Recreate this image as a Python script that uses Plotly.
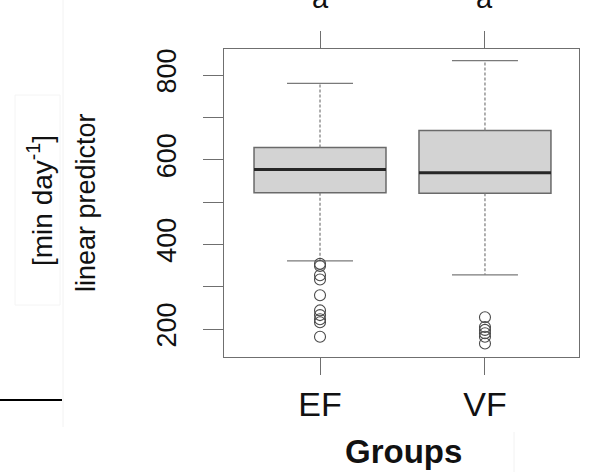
import plotly.graph_objects as go

# Group labels and boxplot statistics (linear predictor, min day^-1)
groups = ["EF", "VF"]
positions = [1, 2]
q1 = [522, 521]
median = [577, 569]
q3 = [629, 669]
whisker_low = [361, 328]
whisker_high = [780, 834]
ef_outliers = [354, 349, 327, 317, 280, 244, 233, 223, 216, 182]
vf_outliers = [228, 205, 198, 190, 182, 166]
letters = ["a", "a"]

y_ticks = [200, 300, 400, 500, 600, 700, 800]
y_ticktext = ["200", "", "400", "", "600", "", "800"]

W, H = 592, 472
ML, MR, MT, MB = 224, 13, 49, 115
PW, PH = W - ML - MR, H - MT - MB


def px_x(px):
    return (px - ML) / PW


def px_y(py):
    return (H - MB - py) / PH


AX = "#6f6f6f"
FONT = "Liberation Sans, Arial, sans-serif"

fig = go.Figure()

# Boxes (quartiles only; whiskers drawn dashed below)
fig.add_trace(go.Box(
    x=positions, q1=q1, median=median, q3=q3,
    lowerfence=q1, upperfence=q3,
    width=0.8, whiskerwidth=0,
    fillcolor="#d3d3d3",
    line=dict(color="#6a6a6a", width=1.5),
    boxpoints=False, hoverinfo="skip", showlegend=False,
))

for i, xc in enumerate(positions):
    # dashed whiskers
    fig.add_trace(go.Scatter(
        x=[xc, xc, None, xc, xc],
        y=[q3[i], whisker_high[i], None, q1[i], whisker_low[i]],
        mode="lines", line=dict(color="#7a7a7a", width=1.2, dash="3px,2px"),
        showlegend=False, hoverinfo="skip",
    ))
    # whisker staples
    fig.add_trace(go.Scatter(
        x=[xc - 0.2, xc + 0.2, None, xc - 0.2, xc + 0.2],
        y=[whisker_high[i], whisker_high[i], None, whisker_low[i], whisker_low[i]],
        mode="lines", line=dict(color="#7a7a7a", width=1.3),
        showlegend=False, hoverinfo="skip",
    ))
    # thick median
    fig.add_trace(go.Scatter(
        x=[xc - 0.4, xc + 0.4], y=[median[i], median[i]],
        mode="lines", line=dict(color="#262626", width=3),
        showlegend=False, hoverinfo="skip",
    ))

# Outliers
for xc, pts in zip(positions, [ef_outliers, vf_outliers]):
    fig.add_trace(go.Scatter(
        x=[xc] * len(pts), y=pts, mode="markers",
        marker=dict(symbol="circle-open", size=11, color="#4a4a4a",
                    line=dict(width=1.1)),
        showlegend=False, hoverinfo="skip",
    ))

annotations = []
# Significance letters above each group
for xc, lt in zip(positions, letters):
    annotations.append(dict(
        x=xc, xref="x", y=px_y(-2), yref="paper", text=lt, showarrow=False,
        font=dict(family=FONT, size=29, color="#111"), yanchor="middle",
    ))

# Axis titles
annotations.append(dict(
    x=px_x(86), y=px_y(203), xref="paper", yref="paper",
    text="linear predictor", textangle=-90, showarrow=False,
    font=dict(family=FONT, size=27, color="#111"),
    xanchor="center", yanchor="middle",
))
annotations.append(dict(
    x=px_x(40), y=px_y(201), xref="paper", yref="paper",
    text="[min day<sup>-1</sup>]", textangle=-90, showarrow=False,
    font=dict(family=FONT, size=28, color="#111"),
    xanchor="center", yanchor="middle",
))
annotations.append(dict(
    x=px_x(403), y=px_y(451), xref="paper", yref="paper",
    text="<b>Groups</b>", showarrow=False,
    font=dict(family=FONT, size=33, color="#111"),
    xanchor="center", yanchor="middle",
))

shapes = [
    # stray rule and faint frame lines at the left
    dict(type="line", xref="paper", yref="paper",
         x0=px_x(0), x1=px_x(62), y0=px_y(400), y1=px_y(400),
         line=dict(color="#000", width=2)),
    dict(type="line", xref="paper", yref="paper",
         x0=px_x(63), x1=px_x(63), y0=px_y(0), y1=px_y(427),
         line=dict(color="#f2f2f2", width=1)),
    dict(type="rect", xref="paper", yref="paper",
         x0=px_x(15), x1=px_x(60), y0=px_y(95), y1=px_y(305),
         line=dict(color="#f4f4f4", width=1)),
    dict(type="line", xref="paper", yref="paper",
         x0=px_x(514), x1=px_x(514), y0=px_y(432), y1=px_y(472),
         line=dict(color="#f2f2f2", width=1)),
]

fig.update_layout(
    width=W, height=H,
    margin=dict(l=ML, r=MR, t=MT, b=MB),
    paper_bgcolor="white", plot_bgcolor="white",
    annotations=annotations, shapes=shapes,
    showlegend=False,
)
fig.update_xaxes(
    range=[0.418, 2.57], tickvals=positions, ticktext=groups,
    showgrid=False, zeroline=False,
    showline=True, mirror="ticks", linecolor=AX, linewidth=1.3,
    ticks="outside", ticklen=17, tickwidth=1.3, tickcolor=AX,
    tickfont=dict(family=FONT, size=34, color="#111"),
    ticklabelstandoff=0,
)
fig.update_yaxes(
    range=[134, 861.4], tickvals=y_ticks, ticktext=y_ticktext,
    showgrid=False, zeroline=False,
    showline=True, mirror=True, linecolor=AX, linewidth=1.3,
    ticks="outside", ticklen=20, tickwidth=1.3, tickcolor=AX,
    tickangle=-90,
    tickfont=dict(family=FONT, size=27, color="#111"),
    ticklabelstandoff=16,
)

fig.write_html("out.html")
